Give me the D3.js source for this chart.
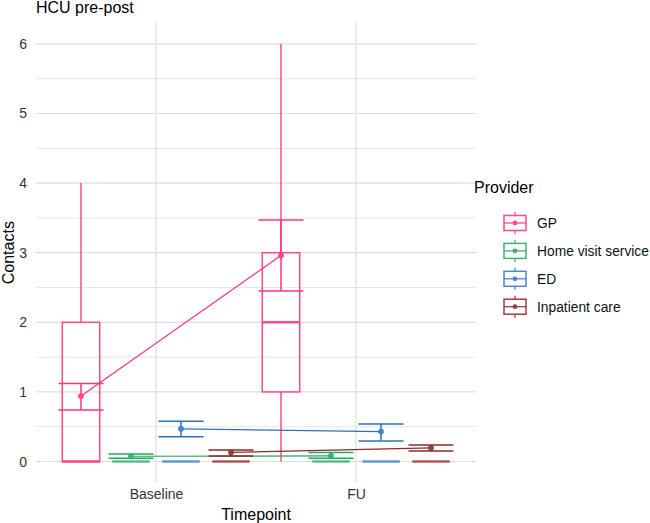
<!DOCTYPE html>
<html><head><meta charset="utf-8">
<script src="https://cdn.jsdelivr.net/npm/d3@7"></script>
<style>body{margin:0;background:#fff;} text{font-family:"Liberation Sans",Arial,sans-serif;}</style>
</head><body>
<svg id="chart" width="650" height="523"></svg>
<script>
const timepoints = ["Baseline", "FU"];
const providers = ["GP", "Home visit service", "ED", "Inpatient care"];
const colors = ["#ff4a8a", "#3fb379", "#4a88c7", "#9e4040"];
const darkColors = ["#ff3380", "#22a860", "#2f70b8", "#8a2a2a"];
// box stats [Baseline, FU]
const boxMin = {"GP":[0,0], "Home visit service":[0,0], "ED":[0,0], "Inpatient care":[0,0]};
const boxQ1 = {"GP":[0,1], "Home visit service":[0,0], "ED":[0,0], "Inpatient care":[0,0]};
const boxMedian = {"GP":[0,2], "Home visit service":[0,0], "ED":[0,0], "Inpatient care":[0,0]};
const boxQ3 = {"GP":[2,3], "Home visit service":[0,0], "ED":[0,0], "Inpatient care":[0,0]};
const boxMax = {"GP":[4,6], "Home visit service":[0,0], "ED":[0,0], "Inpatient care":[0,0]};
const means = {"GP":[0.94,2.96], "Home visit service":[0.076,0.08], "ED":[0.47,0.43], "Inpatient care":[0.13,0.195]};
const seLow = {"GP":[0.74,2.45], "Home visit service":[0.046,0.046], "ED":[0.355,0.295], "Inpatient care":[0.08,0.15]};
const seHigh = {"GP":[1.12,3.47], "Home visit service":[0.107,0.13], "ED":[0.58,0.54], "Inpatient care":[0.165,0.237]};
const yTicks = [0,1,2,3,4,5,6];
const yMinor = [0.5,1.5,2.5,3.5,4.5,5.5];

(function(){
const svg = d3.select("#chart");
const pLeft = 36, pRight = 476, pTop = 23, pBottom = 482.4;
const x = d3.scalePoint().domain(timepoints).range([pLeft, pRight]).padding(0.6);
const step = x.step();
const dodge = d3.scaleBand().domain(providers).range([-0.5*step, 0.5*step]);
const y = d3.scaleLinear().domain([-0.3, 6.3]).range([pBottom, pTop]);

// grid
const grid = svg.append("g");
yMinor.forEach(v => grid.append("line").attr("x1", pLeft).attr("x2", pRight).attr("y1", y(v)).attr("y2", y(v)).attr("stroke", "#e6e6e6").attr("stroke-width", 1));
yTicks.forEach(v => grid.append("line").attr("x1", pLeft).attr("x2", pRight).attr("y1", y(v)).attr("y2", y(v)).attr("stroke", "#dedede").attr("stroke-width", 1.2));
timepoints.forEach(t => grid.append("line").attr("x1", x(t)).attr("x2", x(t)).attr("y1", pTop).attr("y2", pBottom).attr("stroke", "#dedede").attr("stroke-width", 1.2));

// axes (text only)
const yAxis = d3.axisLeft(y).tickValues(yTicks).tickSize(0).tickPadding(0).tickFormat(d3.format("d"));
const ya = svg.append("g").attr("transform", `translate(${27},0)`).call(yAxis);
ya.select(".domain").remove();
ya.selectAll("text").attr("fill", "#333").style("font-size", "14px").attr("font-family", "Liberation Sans, Arial, sans-serif");
const xAxis = d3.axisBottom(x).tickSize(0).tickPadding(0);
const xa = svg.append("g").attr("transform", `translate(0,${489})`).call(xAxis);
xa.select(".domain").remove();
xa.selectAll("text").attr("fill", "#333").style("font-size", "14px").attr("font-family", "Liberation Sans, Arial, sans-serif");

const bw = dodge.bandwidth();
const boxW = bw * 0.75, ebW = bw * 0.9;
const cx = (t, p) => x(t) + dodge(p) + bw/2;

providers.forEach((p, pi) => {
  const g = svg.append("g");
  const col = colors[pi];
  timepoints.forEach((t, ti) => {
    const c = cx(t, p);
    g.append("line").attr("x1", c).attr("x2", c).attr("y1", y(boxQ3[p][ti])).attr("y2", y(boxMax[p][ti])).attr("stroke", col).attr("stroke-width", 1.5);
    g.append("line").attr("x1", c).attr("x2", c).attr("y1", y(boxQ1[p][ti])).attr("y2", y(boxMin[p][ti])).attr("stroke", col).attr("stroke-width", 1.5);
    g.append("rect").attr("x", c - boxW/2).attr("width", boxW)
      .attr("y", y(boxQ3[p][ti])).attr("height", Math.max(0, y(boxQ1[p][ti]) - y(boxQ3[p][ti])))
      .attr("fill", "none").attr("stroke", col).attr("stroke-width", 1.5).attr("stroke-opacity", pi === 0 ? 1 : 0.85);
    g.append("line").attr("x1", c - boxW/2).attr("x2", c + boxW/2).attr("y1", y(boxMedian[p][ti])).attr("y2", y(boxMedian[p][ti]))
      .attr("stroke", col).attr("stroke-width", 2.6).attr("stroke-opacity", pi === 0 ? 1 : 0.85);
  });
});

providers.forEach((p, pi) => {
  const g = svg.append("g");
  const col = darkColors[pi];
  const line = d3.line().x((d, i) => cx(timepoints[i], p)).y(d => y(d));
  g.append("path").attr("d", line(means[p])).attr("fill", "none").attr("stroke", col).attr("stroke-width", 1.2);
  timepoints.forEach((t, ti) => {
    const c = cx(t, p);
    [seLow[p][ti], seHigh[p][ti]].forEach(v => g.append("line").attr("x1", c - ebW/2).attr("x2", c + ebW/2).attr("y1", y(v)).attr("y2", y(v)).attr("stroke", col).attr("stroke-width", 1.5));
    g.append("line").attr("x1", c).attr("x2", c).attr("y1", y(seLow[p][ti])).attr("y2", y(seHigh[p][ti])).attr("stroke", col).attr("stroke-width", 1.5);
    g.append("circle").attr("cx", c).attr("cy", y(means[p][ti])).attr("r", 2.6).attr("fill", colors[pi]).attr("stroke", col).attr("stroke-width", 0.6);
  });
});

svg.append("text").attr("x", 36).attr("y", 13).text("HCU pre-post").style("font-size", "16px").attr("fill", "#000");
svg.append("text").attr("x", (pLeft + pRight)/2).attr("y", 520).attr("text-anchor", "middle").text("Timepoint").style("font-size", "16px").attr("fill", "#000");
svg.append("text").attr("transform", `translate(14,${(pTop+pBottom)/2}) rotate(-90)`).attr("text-anchor", "middle").text("Contacts").style("font-size", "16px").attr("fill", "#000");

const lg = svg.append("g");
lg.append("text").attr("x", 474).attr("y", 193).text("Provider").style("font-size", "16px").attr("fill", "#000");
providers.forEach((p, i) => {
  const cy = 223 + i * 27.9;
  const kx = 504, kw = 22, kh = 15, kc = kx + kw/2;
  const col = colors[i];
  lg.append("line").attr("x1", kc).attr("x2", kc).attr("y1", cy - 11).attr("y2", cy + 11).attr("stroke", col).attr("stroke-width", 1.3);
  lg.append("rect").attr("x", kx).attr("y", cy - kh/2).attr("width", kw).attr("height", kh).attr("fill", "#fff").attr("stroke", col).attr("stroke-width", 1.5);
  lg.append("line").attr("x1", kx).attr("x2", kx + kw).attr("y1", cy).attr("y2", cy).attr("stroke", col).attr("stroke-width", 1.3);
  lg.append("circle").attr("cx", kc).attr("cy", cy).attr("r", 2.4).attr("fill", col);
  lg.append("text").attr("x", 537).attr("y", cy).attr("dy", "0.35em").text(p).style("font-size", "13.8px").attr("fill", "#111");
});
})();
</script>
</body></html>
